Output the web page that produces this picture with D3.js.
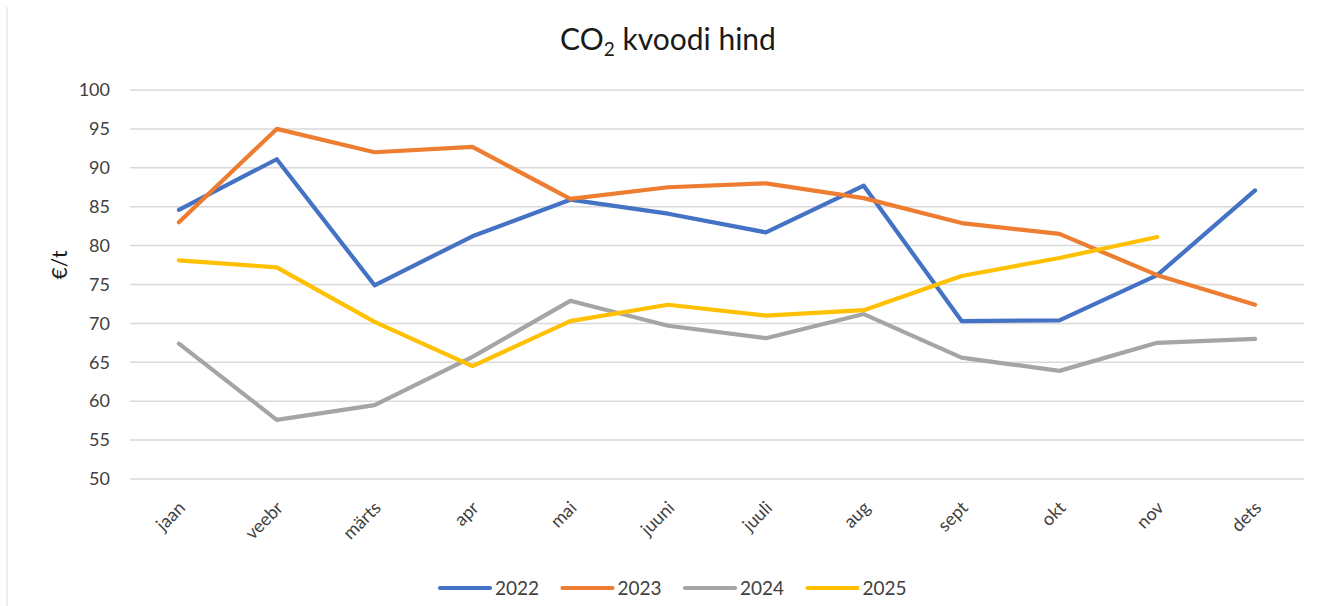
<!DOCTYPE html>
<html><head><meta charset="utf-8">
<script src="https://cdn.jsdelivr.net/npm/d3@7"></script>
<style>body{margin:0;background:#fff;} text{font-family:Lato, "Open Sans", sans-serif;}</style>
</head><body>
<svg id="chart" width="1318" height="606"></svg>
<script>
const months = ["jaan","veebr","märts","apr","mai","juuni","juuli","aug","sept","okt","nov","dets"];
const years = ["2022","2023","2024","2025"];
const s2022 = [84.6, 91.1, 74.9, 81.2, 85.9, 84.1, 81.7, 87.7, 70.3, 70.4, 76.2, 87.1];
const s2023 = [83.0, 95.0, 92.0, 92.7, 86.0, 87.5, 88.0, 86.1, 82.9, 81.5, 76.2, 72.4];
const s2024 = [67.4, 57.6, 59.5, 65.7, 72.9, 69.7, 68.1, 71.2, 65.6, 63.9, 67.5, 68.0];
const s2025 = [78.1, 77.2, 70.2, 64.5, 70.3, 72.4, 71.0, 71.7, 76.1, 78.4, 81.1];
const yTicks = [50,55,60,65,70,75,80,85,90,95,100];
const colors = ["#4472C4","#ED7D31","#A5A5A5","#FFC000"];
const series = [s2022, s2023, s2024, s2025];

const svg = d3.select("#chart");
const W = 1318, H = 606;
const m = {left:130, right:1304, top:90, bottom:479};

svg.append("line").attr("x1",7).attr("x2",7).attr("y1",7).attr("y2",H).attr("stroke","#e3e3e3").attr("stroke-width",1.2);

const x = d3.scalePoint().domain(months).range([m.left, m.right]).padding(0.5);
const y = d3.scaleLinear().domain([50,100]).range([m.bottom, m.top]);

// grid
svg.append("g").selectAll("line").data(yTicks).join("line")
  .attr("x1", m.left).attr("x2", m.right)
  .attr("y1", d=>y(d)).attr("y2", d=>y(d))
  .attr("stroke","#d9d9d9").attr("stroke-width",1.5);

// y axis labels
const yAxis = d3.axisLeft(y).tickValues(yTicks).tickSize(0).tickPadding(20);
const yg = svg.append("g").attr("transform",`translate(${m.left},0)`).call(yAxis);
yg.select(".domain").remove();
yg.selectAll("text").attr("font-size",18).attr("fill","#404040").attr("font-family","Lato, sans-serif");

// x axis labels
const xAxis = d3.axisBottom(x).tickSize(0).tickPadding(0);
const xg = svg.append("g").attr("transform",`translate(0,${m.bottom})`).call(xAxis);
xg.select(".domain").remove();
xg.selectAll("text")
  .attr("font-size",18).attr("fill","#404040").attr("font-family","Lato, sans-serif")
  .attr("text-anchor","end").attr("dy",null).attr("y",0)
  .attr("transform","translate(7,30) rotate(-45)");

// lines
const line = d3.line().x((d,i)=>x(months[i])).y(d=>y(d));
series.forEach((s,k)=>{
  svg.append("path").datum(s).attr("d",line)
    .attr("fill","none").attr("stroke",colors[k]).attr("stroke-width",4.2)
    .attr("stroke-linejoin","round").attr("stroke-linecap","round");
});

// title
const title = svg.append("text").attr("x",668).attr("y",50).attr("text-anchor","middle")
  .attr("font-size",30).attr("fill","#1a1a1a");
title.append("tspan").text("CO");
title.append("tspan").text("2").attr("font-size",19).attr("dy",6);
title.append("tspan").text(" kvoodi hind").attr("dy",-6);

// y label
svg.append("text").attr("transform","translate(67,265) rotate(-90)").attr("text-anchor","middle")
  .attr("font-size",21).attr("fill","#1a1a1a").text("€/t");

// legend
const lg = svg.append("g");
years.forEach((yr,k)=>{
  const x0 = 440 + k*122.5;
  lg.append("line").attr("x1",x0).attr("x2",x0+50).attr("y1",588).attr("y2",588)
    .attr("stroke",colors[k]).attr("stroke-width",4.2).attr("stroke-linecap","round");
  lg.append("text").attr("x",x0+55).attr("y",595).attr("font-size",19).attr("fill","#404040").text(yr);
});
</script>
</body></html>
